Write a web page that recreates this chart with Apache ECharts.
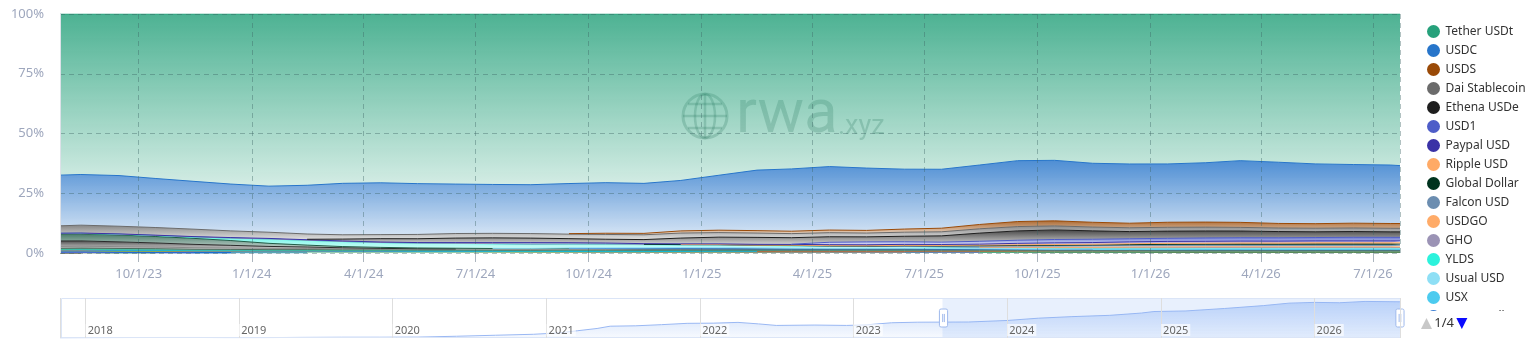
<!DOCTYPE html>
<html>
<head>
<meta charset="utf-8">
<script src="https://cdn.jsdelivr.net/npm/echarts@6/dist/echarts.min.js"></script>
<style>html,body{margin:0;padding:0;background:#fff}#chart{width:1538px;height:350px}</style>
</head>
<body>
<div id="chart"></div>
<script>
const _ = null;

// ---- visible window dates (shared by all stacked series) ----
const dates = ['2023-07-29','2023-08-15','2023-09-15','2023-10-15','2023-11-15','2023-12-15',
  '2024-01-15','2024-02-15','2024-03-15','2024-04-15','2024-05-15','2024-06-15','2024-07-15','2024-08-15','2024-09-15','2024-10-15','2024-11-15','2024-12-15',
  '2025-01-15','2025-02-15','2025-03-15','2025-04-15','2025-05-15','2025-06-15','2025-07-15','2025-08-15','2025-09-15','2025-10-15','2025-11-15','2025-12-15',
  '2026-01-15','2026-02-15','2026-03-15','2026-04-15','2026-05-15','2026-06-15','2026-07-15','2026-07-23'];

// ---- share values (% of total) ----
const tetherUSDt = [67.7,67.2,67.6,68.8,70.0,71.2,72.1,71.7,71.1,70.7,70.8,71.2,71.5,71.6,71.1,70.7,70.8,69.6,67.2,65.0,64.4,63.7,64.5,64.8,64.8,63.0,61.2,61.2,62.5,62.8,62.5,61.9,61.1,62.0,62.7,62.9,63.3,63.6];
const usdc = [21.3,21.2,21.2,20.5,20.0,19.6,19.3,20.4,21.6,21.7,21.2,20.7,20.5,20.5,21.0,21.2,20.9,21.1,22.9,25.2,25.9,26.5,26.1,25.0,24.6,24.8,25.4,25.3,24.7,24.8,24.3,24.7,25.7,25.6,25.0,24.5,24.5,24.3];
const usds = [_,_,_,_,_,_,_,_,_,_,_,_,_,_,0.2,0.5,0.6,0.9,1.0,1.0,1.0,1.1,1.1,1.3,1.5,1.8,2.1,2.1,2.0,1.9,2.1,2.1,2.1,1.9,1.9,2.0,2.0,2.0];
const daiStablecoin = [3.1,3.3,3.2,3.2,3.1,2.8,2.6,2.2,1.8,1.7,1.8,1.9,1.9,1.9,1.9,2.0,2.0,2.1,1.9,1.8,1.7,1.7,1.6,1.7,1.7,1.8,1.8,1.7,1.6,1.6,1.6,1.6,1.5,1.5,1.5,1.5,1.5,1.5];
const ethenaUSDe = [_,_,_,_,_,_,_,0.2,0.8,1.4,1.6,1.9,2.0,1.9,1.7,1.6,1.7,2.4,2.8,2.9,2.7,2.3,2.1,2.3,2.6,3.4,3.9,4.0,3.5,3.0,3.0,2.9,2.8,2.6,2.4,2.4,2.3,2.3];
const usd1 = [_,_,_,_,_,_,_,_,_,_,_,_,_,_,_,_,_,_,_,_,0.1,1.0,1.2,1.1,1.0,1.2,1.3,1.4,1.4,1.3,1.3,1.4,1.4,1.4,1.4,1.5,1.5,1.5];
const paypalUSD = [0.02,0.05,0.1,0.1,0.1,0.2,0.2,0.2,0.2,0.2,0.2,0.3,0.4,0.6,0.5,0.4,0.3,0.3,0.3,0.3,0.3,0.4,0.4,0.4,0.4,0.4,0.6,0.7,0.7,0.8,0.8,0.8,0.8,0.8,0.8,0.8,0.8,0.8];
const rippleUSD = [_,_,_,_,_,_,_,_,_,_,_,_,_,_,_,_,_,0.02,0.03,0.05,0.1,0.12,0.13,0.15,0.2,0.25,0.28,0.3,0.3,0.35,0.4,0.4,0.45,0.45,0.5,0.5,0.5,0.5];
const globalDollar = [_,_,_,_,_,_,_,_,_,_,_,_,_,_,_,_,0.01,0.02,0.03,0.05,0.1,0.1,0.1,0.15,0.15,0.2,0.25,0.3,0.3,0.35,0.4,0.4,0.45,0.45,0.5,0.5,0.5,0.5];
const falconUSD = [_,_,_,_,_,_,_,_,_,_,_,_,_,_,_,_,_,_,_,_,_,_,0.05,0.1,0.2,0.4,0.5,0.6,0.7,0.7,0.7,0.7,0.7,0.7,0.7,0.7,0.7,0.7];
const usdgo = [_,_,_,_,_,_,_,_,_,_,_,_,_,_,_,_,_,_,_,_,_,_,_,_,_,0.05,0.1,0.15,0.2,0.25,0.3,0.3,0.3,0.3,0.3,0.3,0.3,0.3];
const gho = [0.05,0.05,0.05,0.05,0.05,0.05,0.05,0.05,0.05,0.05,0.05,0.05,0.1,0.1,0.1,0.1,0.1,0.1,0.1,0.1,0.1,0.1,0.1,0.1,0.1,0.1,0.1,0.1,0.1,0.1,0.1,0.1,0.1,0.1,0.1,0.1,0.1,0.1];
const ylds = [0.2,0.2,0.3,0.4,0.6,1.0,1.8,2.0,2.1,2.0,2.0,2.0,1.9,1.7,1.6,1.5,1.3,1.1,1.0,0.9,0.9,0.8,0.7,0.7,0.6,0.5,0.5,0.5,0.4,0.4,0.4,0.4,0.4,0.4,0.4,0.4,0.4,0.4];
const usualUSD = [_,_,_,_,_,_,_,_,_,_,_,_,0.05,0.1,0.2,0.3,0.4,0.5,0.6,0.5,0.4,0.3,0.3,0.3,0.3,0.2,0.2,0.2,0.2,0.2,0.2,0.2,0.2,0.2,0.2,0.2,0.2,0.2];
const usx = [_,_,_,_,_,_,_,_,_,_,_,_,_,_,_,_,_,_,_,_,_,_,_,_,_,_,_,_,0.05,0.1,0.15,0.2,0.2,0.2,0.2,0.2,0.2,0.2];
const agoraDollar = [_,_,_,_,_,_,_,_,_,_,_,_,_,_,0.02,0.03,0.05,0.05,0.05,0.06,0.06,0.07,0.08,0.1,0.1,0.1,0.1,0.1,0.12,0.12,0.12,0.12,0.12,0.12,0.12,0.12,0.12,0.12];
const trueUSD = [3.0,3.0,2.9,2.7,2.5,2.0,1.3,0.8,0.5,0.4,0.35,0.3,0.3,0.3,0.3,0.3,0.3,0.25,0.25,0.2,0.2,0.2,0.2,0.2,0.2,0.2,0.15,0.15,0.15,0.15,0.15,0.15,0.15,0.15,0.15,0.15,0.15,0.15];
const binanceUSD = [2.3,2.2,2.0,1.7,1.4,1.1,0.8,0.6,0.4,0.2,0.1,0.05];
const fraxUSD = [0.8,0.8,0.75,0.7,0.65,0.6,0.55,0.5,0.45,0.4,0.4,0.4,0.4,0.4,0.35,0.35,0.3,0.3,0.25,0.25,0.25,0.2,0.2,0.2,0.2,0.2,0.2,0.2,0.2,0.2,0.2,0.2,0.2,0.2,0.2,0.2,0.2,0.2];
const paxDollar = [0.5,0.5,0.5,0.45,0.4,0.35,0.3,0.3,0.3,0.3,0.3,0.3,0.3,0.3,0.3,0.3,0.25,0.25,0.2,0.2,0.2,0.2,0.2,0.2,0.15,0.15,0.15,0.1,0.1,0.1,0.1,0.1,0.1,0.1,0.1,0.1,0.1,0.1];
const firstDigitalUSD = [0.1,0.2,0.2,0.2,0.2,0.2,0.2,0.2,0.2,0.2,0.2,0.2,0.2,0.2,0.3,0.3,0.3,0.3,0.3,0.3,0.3,0.3,0.3,0.3,0.3,0.3,0.3,0.3,0.3,0.3,0.3,0.3,0.3,0.3,0.3,0.3,0.3,0.3];
const geminiDollar = [0.1,0.1,0.1,0.1,0.1,0.1,0.1,0.1,0.1,0.1,0.05,0.05,0.05,0.05,0.05,0.05,0.05,0.05,0.05,0.05];
const usdtb = [_,_,_,_,_,_,_,_,_,_,_,_,_,_,_,_,_,0.05,0.1,0.15,0.2,0.25,0.3,0.3,0.3,0.3,0.3,0.3,0.3,0.3,0.3,0.3,0.3,0.3,0.3,0.3,0.3,0.3];
const liquityUSD = [0.2,0.2,0.2,0.2,0.15,0.15,0.15,0.15,0.15,0.15,0.1,0.1,0.1,0.1,0.1,0.1,0.1,0.1,0.1,0.1,0.05,0.05,0.05,0.05,0.05,0.05];
const curveUSD = [0.1,0.1,0.1,0.1,0.1,0.1,0.1,0.1,0.1,0.1,0.1,0.1,0.05,0.05,0.05,0.05,0.05,0.05,0.05,0.05,0.05,0.05,0.05,0.05];
const usdd = [0.6,0.6,0.55,0.55,0.5,0.5,0.5,0.5,0.5,0.5,0.5,0.5,0.5,0.45,0.45,0.4,0.4,0.4,0.4,0.35,0.35,0.35,0.3,0.3,0.3,0.3,0.3,0.25,0.25,0.25,0.2,0.2,0.2,0.2,0.2,0.2,0.2,0.2];
const sUSD = [0.02,0.02,0.02,0.02,0.01,0.01];
const magicInternetMoney = [0.02,0.02,0.01,0.01,0.01];
const alchemixUSD = [0.01,0.01,0.01,0.01];
const originDollar = [0.01,0.01,0.01,0.01,0.01,0.01];
const speraxUSD = [0.01,0.01,0.01];
const dola = [0.02,0.02,0.02,0.02];
const celoDollar = [0.01,0.01,0.01];
const angleEUR = [0.01,0.01,0.01];
const eurc = [0.05,0.05,0.05,0.05,0.05,0.05,0.05,0.05];
const stasisEuro = [0.03,0.03,0.03,0.03];
const tetherEURt = [0.03,0.03,0.03,0.02];
const husd = [0.01,0.01];
const feiUSD = [0.01,0.01];
const neutrinoUSD = [0.01,0.01];
const terraUSD = [0.01,0.01,0.01];
const bean = [0.01,0.01];
const overnightUSD = [0.01,0.01,0.01];
const mountainUSD = [0.01,0.02,0.02,0.03,0.03,0.04];
const usdj = [0.01,0.01];
const reserveDollar = [0.01,0.01];
const mstableUSD = [0.01,0.01];
const vai = [0.01,0.01];
const usdk = [0.01,0.01];
const flexUSD = [0.01,0.01];

// ---- full history of Tether supply (bn USD), drawn in the zoom strip ----
const historyDates = ['2017-11-01','2018-01-01','2018-04-01','2018-07-01','2018-10-01','2018-12-01','2019-03-01','2019-06-01','2019-09-01','2019-12-01','2020-03-01','2020-06-01','2020-09-01','2020-12-01','2021-02-01','2021-03-15','2021-05-01','2021-06-01','2021-08-01','2021-10-01','2021-12-01','2022-02-01','2022-04-01','2022-05-20','2022-07-01','2022-10-01','2022-12-15','2023-02-01','2023-04-01','2023-06-01','2023-07-29','2023-10-01','2024-01-01','2024-03-15','2024-06-01','2024-09-01','2024-11-15','2024-12-15','2025-03-01','2025-06-01','2025-09-01','2025-11-01','2026-01-01','2026-03-01','2026-05-01','2026-07-23'];
const historyTether = [0.6,1.4,2.3,2.7,2.7,1.9,2.0,3.2,4.0,4.1,4.7,9.2,14.5,19.6,27,38,50,62,64,70,77,78,82,74,66,68,66,69,80,83,83.5,84,92,104,112,119,131,139,142,155,170,183,187,185,192,190];

const yTicks = [0, 25, 50, 75, 100];

// ---- series list in legend order (top of stack first) ----
const seriesDefs = [
  ['Tether USDt', tetherUSDt, '#26a17b'],
  ['USDC', usdc, '#2775ca'],
  ['USDS', usds, '#9a4a07'],
  ['Dai Stablecoin', daiStablecoin, '#6b6b6b'],
  ['Ethena USDe', ethenaUSDe, '#1e1e1e'],
  ['USD1', usd1, '#4e5dc8'],
  ['Paypal USD', paypalUSD, '#3a32a6'],
  ['Ripple USD', rippleUSD, '#ffaa66'],
  ['Global Dollar', globalDollar, '#00331e'],
  ['Falcon USD', falconUSD, '#6b8db0'],
  ['USDGO', usdgo, '#ffab68'],
  ['GHO', gho, '#9b93b5'],
  ['YLDS', ylds, '#2cf2dc'],
  ['Usual USD', usualUSD, '#8edff5'],
  ['USX', usx, '#4ccbef'],
  ['Agora Dollar', agoraDollar, '#3d7fd4'],
  ['TrueUSD', trueUSD, '#1f5c47'],
  ['Binance USD', binanceUSD, '#2b2b2b'],
  ['Frax USD', fraxUSD, '#8a8a8a'],
  ['Pax Dollar', paxDollar, '#4a6b5c'],
  ['First Digital USD', firstDigitalUSD, '#3fc1a0'],
  ['Gemini Dollar', geminiDollar, '#00b8e6'],
  ['USDtb', usdtb, '#c06030'],
  ['Liquity USD', liquityUSD, '#6f6fd0'],
  ['Curve USD', curveUSD, '#d4a020'],
  ['USDD', usdd, '#2d9d6b'],
  ['sUSD', sUSD, '#1e69d2'],
  ['Magic Internet Money', magicInternetMoney, '#9c6ade'],
  ['Alchemix USD', alchemixUSD, '#e8a87c'],
  ['Origin Dollar', originDollar, '#0074f0'],
  ['Sperax USD', speraxUSD, '#5dade2'],
  ['Dola', dola, '#c0392b'],
  ['Celo Dollar', celoDollar, '#35d07f'],
  ['Angle EUR', angleEUR, '#f5b041'],
  ['EURC', eurc, '#2e86c1'],
  ['STASIS EURO', stasisEuro, '#17a589'],
  ['Tether EURt', tetherEURt, '#48c9b0'],
  ['HUSD', husd, '#7d3c98'],
  ['Fei USD', feiUSD, '#229954'],
  ['Neutrino USD', neutrinoUSD, '#a93226'],
  ['TerraUSD', terraUSD, '#5b7fd8'],
  ['Bean', bean, '#58d68d'],
  ['Overnight USD+', overnightUSD, '#f39c12'],
  ['Mountain Protocol USD', mountainUSD, '#566573'],
  ['USDJ', usdj, '#e74c3c'],
  ['Reserve Dollar', reserveDollar, '#839192'],
  ['mStable USD', mstableUSD, '#000000'],
  ['Vai', vai, '#f4d03f'],
  ['USDK', usdk, '#85c1e9'],
  ['Flex USD', flexUSD, '#af7ac5']
];

// normalise to 100% per date
const totals = dates.map((d, i) => seriesDefs.reduce((s, def) => {
  const v = def[1][i];
  return s + (v == null ? 0 : v);
}, 0));

function rgba(hex, a) {
  const n = parseInt(hex.slice(1), 16);
  return 'rgba(' + ((n >> 16) & 255) + ',' + ((n >> 8) & 255) + ',' + (n & 255) + ',' + a + ')';
}

const stackSeries = seriesDefs.slice().reverse().map(([name, arr, color]) => ({
  name: name,
  type: 'line',
  stack: 'share',
  xAxisIndex: 0,
  yAxisIndex: 0,
  data: arr.map((v, i) => [dates[i], v == null ? null : v / totals[i] * 100]),
  symbol: 'none',
  showSymbol: false,
  silent: true,
  lineStyle: { width: 1, color: color },
  itemStyle: { color: color },
  areaStyle: {
    opacity: 1,
    color: new echarts.graphic.LinearGradient(0, 0, 0, 1, [
      { offset: 0, color: rgba(color, 0.82) },
      { offset: 1, color: rgba(color, 0.2) }
    ])
  },
  emphasis: { disabled: true }
}));

// invisible carrier of the full time range for the zoom slider
const rangeSeries = {
  name: 'tether-range',
  type: 'line',
  xAxisIndex: 0,
  yAxisIndex: 1,
  data: historyDates.map((d, i) => [d, historyTether[i]]),
  symbol: 'none',
  silent: true,
  lineStyle: { opacity: 0 },
  emphasis: { disabled: true },
  z: 0
};

// overview curve drawn in the strip behind the slider
const overviewSeries = {
  name: 'tether-overview',
  type: 'line',
  xAxisIndex: 1,
  yAxisIndex: 2,
  data: historyDates.map((d, i) => [d, historyTether[i]]),
  symbol: 'none',
  silent: true,
  lineStyle: { color: '#9ab8f3', width: 1 },
  areaStyle: {
    opacity: 1,
    color: new echarts.graphic.LinearGradient(0, 0, 0, 1, [
      { offset: 0, color: 'rgba(150,186,246,0.55)' },
      { offset: 1, color: 'rgba(150,186,246,0.08)' }
    ])
  },
  emphasis: { disabled: true },
  z: 1
};

const FONT = 'Noto Sans';
const labelColor = '#9ea7bd';
const gridLineColor = 'rgba(60,100,100,0.4)';
const wm = 'rgba(50,90,80,0.25)';
const clear = 'rgba(0,0,0,0)';
const legendNames = seriesDefs.map(d => d[0]);

const legendBase = {
  type: 'scroll', orient: 'vertical', left: 1422, top: 20, height: 305,
  icon: 'circle', itemWidth: 14, itemHeight: 13, itemGap: 6,
  pageIconSize: 11, pageButtonItemGap: 0, pageButtonGap: 6,
  data: legendNames
};

const chart = echarts.init(document.getElementById('chart'), null, { renderer: 'canvas' });
chart.setOption({
  animation: false,
  textStyle: { fontFamily: FONT },
  grid: [
    { left: 60, right: 138, top: 14, bottom: 97 },
    { left: 60, right: 138, top: 298, height: 40 }
  ],
  xAxis: [
    {
      type: 'time', gridIndex: 0, z: 5, splitNumber: 12, boundaryGap: false,
      axisLine: { show: false },
      axisTick: { show: true, length: 9, lineStyle: { color: 'rgba(70,90,110,0.45)' } },
      axisLabel: {
        color: labelColor, fontSize: 13, margin: 15, fontFamily: FONT,
        formatter: function (v) {
          const d = new Date(v);
          return (d.getMonth() + 1) + '/' + d.getDate() + '/' + String(d.getFullYear()).slice(2);
        }
      },
      splitLine: { show: true, lineStyle: { color: gridLineColor, type: [5, 4], width: 1 } }
    },
    {
      type: 'time', gridIndex: 1, z: 10, splitNumber: 9,
      min: historyDates[0], max: historyDates[historyDates.length - 1],
      axisLine: { show: false }, axisTick: { show: false },
      axisLabel: {
        inside: true, margin: 2, align: 'left', color: '#666', fontSize: 11, fontFamily: FONT,
        formatter: '{yyyy}', backgroundColor: 'rgba(255,255,255,0.65)', padding: [1, 2, 0, 2]
      },
      splitLine: { show: true, lineStyle: { color: '#dedede', width: 1 } }
    }
  ],
  yAxis: [
    {
      type: 'value', gridIndex: 0, z: 5, min: yTicks[0], max: yTicks[yTicks.length - 1], interval: 25,
      axisLine: { show: true, lineStyle: { color: '#dde1e8' } },
      axisTick: { show: false },
      axisLabel: { color: labelColor, fontSize: 13, margin: 16, formatter: '{value}%', fontFamily: FONT },
      splitLine: { show: true, lineStyle: { color: gridLineColor, type: [5, 4], width: 1 } }
    },
    { type: 'value', gridIndex: 0, show: false, min: 0 },
    { type: 'value', gridIndex: 1, show: false, min: 0, max: 210 }
  ],
  legend: [
    // visible items (its own page controller is hidden)
    Object.assign({}, legendBase, {
      itemStyle: { borderWidth: 0 },
      textStyle: { fontSize: 12, color: '#333', fontFamily: FONT },
      pageIconColor: clear, pageIconInactiveColor: clear,
      pageTextStyle: { color: clear, fontSize: 13 }
    }),
    // page controller placed under the icons
    Object.assign({}, legendBase, {
      left: 1416,
      pageButtonItemGap: -4,
      itemStyle: { color: clear, borderWidth: 0 },
      formatter: function () { return ''; },
      textStyle: { fontSize: 12, color: clear },
      pageIconColor: '#0b0bff', pageIconInactiveColor: '#c8c8c8',
      pageTextStyle: { color: '#333', fontSize: 13, fontFamily: FONT }
    })
  ],
  dataZoom: [{
    type: 'slider', xAxisIndex: 0, filterMode: 'none',
    left: 60, right: 138, top: 298, height: 40,
    startValue: dates[0], endValue: dates[dates.length - 1],
    showDetail: false, brushSelect: false, moveHandleSize: 0, showDataShadow: false,
    backgroundColor: 'transparent', borderColor: '#dbe5f7',
    fillerColor: 'rgba(140,178,245,0.2)',
    handleIcon: 'path://M2,0H8A2,2,0,0,1,10,2V20A2,2,0,0,1,8,22H2A2,2,0,0,1,0,20V2A2,2,0,0,1,2,0ZM4,6V16M6,6V16',
    handleSize: '45%',
    handleStyle: { color: '#fff', borderColor: '#9fb9ec', borderWidth: 1 }
  }],
  graphic: [{
    type: 'group', z: 100, silent: true,
    children: [
      { type: 'circle', shape: { cx: 705, cy: 116, r: 22 }, style: { fill: 'none', stroke: wm, lineWidth: 3 } },
      { type: 'ellipse', shape: { cx: 705, cy: 116, rx: 10, ry: 22 }, style: { fill: 'none', stroke: wm, lineWidth: 2.5 } },
      { type: 'line', shape: { x1: 705, y1: 94, x2: 705, y2: 138 }, style: { stroke: wm, lineWidth: 2.5 } },
      { type: 'line', shape: { x1: 683, y1: 116, x2: 727, y2: 116 }, style: { stroke: wm, lineWidth: 2.5 } },
      { type: 'line', shape: { x1: 688, y1: 104, x2: 722, y2: 104 }, style: { stroke: wm, lineWidth: 2.5 } },
      { type: 'line', shape: { x1: 688, y1: 128, x2: 722, y2: 128 }, style: { stroke: wm, lineWidth: 2.5 } },
      { type: 'text', x: 736, y: 116, style: { text: 'rwa', fill: wm, font: '400 62px Roboto', verticalAlign: 'middle' } },
      { type: 'text', x: 838, y: 127, style: { text: '.xyz', fill: wm, font: '400 27px Roboto', verticalAlign: 'middle' } }
    ]
  }],
  series: [rangeSeries, overviewSeries].concat(stackSeries)
});
</script>
</body>
</html>
